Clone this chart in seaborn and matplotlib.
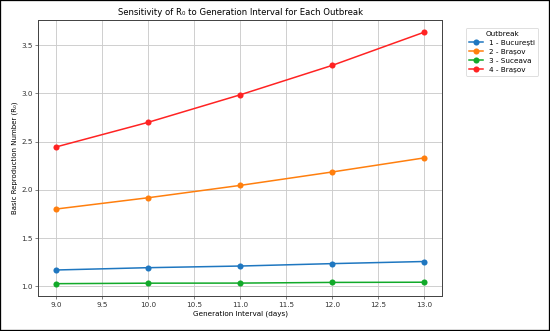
import matplotlib
matplotlib.use("Agg")
import matplotlib.pyplot as plt
import seaborn as sns
import pandas as pd

gen_interval = [9.0, 10.0, 11.0, 12.0, 13.0]
outbreaks = ["1 - București", "2 - Brașov", "3 - Suceava", "4 - Brașov"]
r0_bucuresti = [1.167, 1.191, 1.208, 1.233, 1.255]
r0_brasov2 = [1.80, 1.917, 2.045, 2.184, 2.33]
r0_suceava = [1.025, 1.030, 1.031, 1.038, 1.040]
r0_brasov4 = [2.445, 2.70, 2.985, 3.29, 3.634]
colors = ["#1f77c0", "#ff7f0e", "#12aa2a", "#ff2323"]

rows = []
for name, vals in zip(outbreaks, [r0_bucuresti, r0_brasov2, r0_suceava, r0_brasov4]):
    for g, v in zip(gen_interval, vals):
        rows.append({"Generation Interval (days)": g, "R0": v, "Outbreak": name})
df = pd.DataFrame(rows)

fig = plt.figure(figsize=(10, 6.02), dpi=55)
ax = fig.add_axes([0.069, 0.105, 0.735, 0.835])
sns.lineplot(data=df, x="Generation Interval (days)", y="R0", hue="Outbreak",
             palette=colors, marker="o", markersize=8, markeredgewidth=0,
             linewidth=2, ax=ax)
ax.grid(True, color="#cccccc", linewidth=1.2)
ax.set_axisbelow(True)
for s in ax.spines.values():
    s.set_color("#444444")
    s.set_linewidth(1.3)
ax.tick_params(labelsize=9.5, colors="#333333")
ax.set_title("Sensitivity of R₀ to Generation Interval for Each Outbreak", fontsize=11.2)
ax.set_xlabel("Generation Interval (days)", fontsize=9.5)
ax.set_ylabel("Basic Reproduction Number (R₀)", fontsize=9.2)
ax.set_xticks([9.0, 9.5, 10.0, 10.5, 11.0, 11.5, 12.0, 12.5, 13.0])
leg = ax.legend(title="Outbreak", loc="upper left", bbox_to_anchor=(1.05, 0.985),
                fontsize=9.5, title_fontsize=9.5, labelspacing=0.4)
fig.patches.append(plt.Rectangle((0, 0), 1, 1, transform=fig.transFigure,
                                 fill=False, edgecolor="black", linewidth=3))
fig.savefig("out.png", dpi=55)
